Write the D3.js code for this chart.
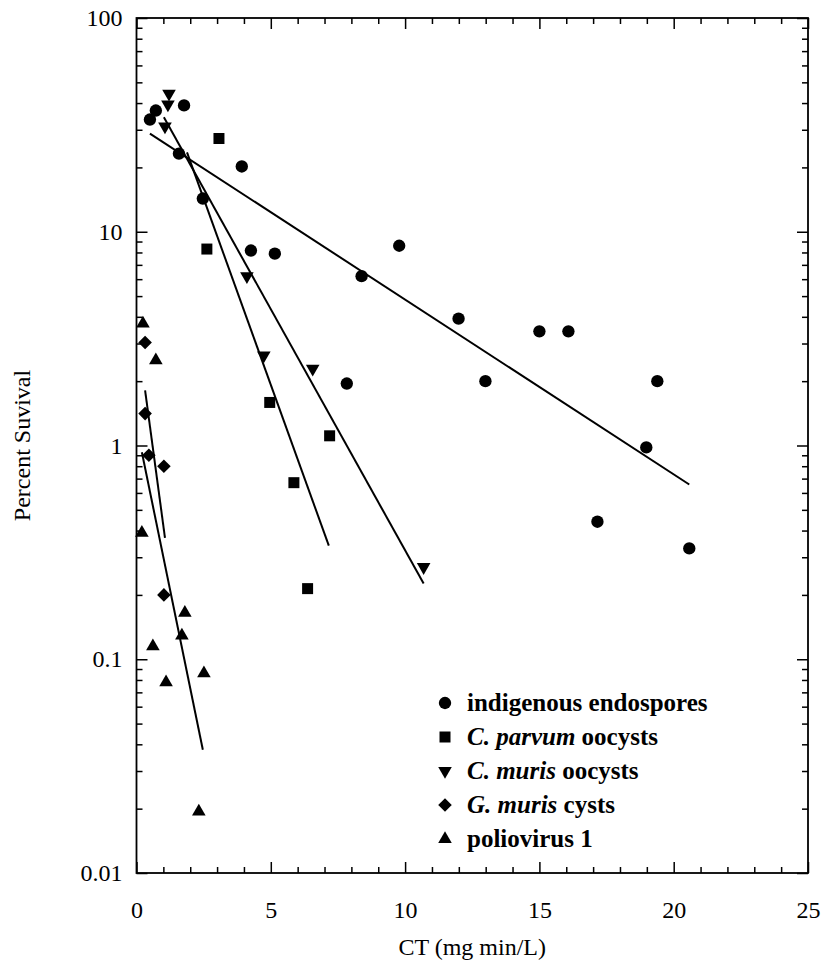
<!DOCTYPE html>
<html>
<head>
<meta charset="utf-8">
<script src="https://cdn.jsdelivr.net/npm/d3@7"></script>
<style>
  body { margin: 0; background: #fff; }
  svg { display: block; }
</style>
</head>
<body>
<svg id="chart"></svg>
<script>
// Data
const endosporesX = [0.50, 0.72, 1.77, 1.58, 2.47, 3.92, 4.26, 5.15, 8.38, 9.78, 11.99, 15.0, 16.08, 12.99, 7.83, 19.39, 18.98, 17.16, 20.58];
const endosporesY = [33.5, 36.9, 39.0, 23.2, 14.3, 20.2, 8.17, 7.9, 6.2, 8.6, 3.92, 3.42, 3.42, 2.0, 1.95, 2.0, 0.98, 0.44, 0.33];

const parvumX = [3.07, 2.62, 4.96, 7.19, 5.86, 6.37];
const parvumY = [27.3, 8.3, 1.59, 1.11, 0.67, 0.214];

const murisX = [1.21, 1.17, 1.06, 4.11, 4.74, 6.56, 10.69];
const murisY = [44.3, 39.4, 31.1, 6.2, 2.64, 2.29, 0.27];

const giardiaX = [0.32, 0.32, 0.46, 1.02, 1.02];
const giardiaY = [3.03, 1.41, 0.90, 0.80, 0.20];

const polioX = [0.24, 0.72, 0.20, 1.80, 1.69, 0.61, 2.51, 1.10, 2.32];
const polioY = [3.72, 2.5, 0.39, 0.165, 0.129, 0.115, 0.086, 0.078, 0.0194];

// regression lines: [x start, x end], [y start, y end]
const endosporesFit = [[0.50, 20.58], [28.8, 0.657]];
const parvumFit = [[1.88, 7.16], [23.5, 0.34]];
const murisFit = [[1.02, 10.69], [34.3, 0.226]];
const giardiaFit = [[0.32, 1.06], [1.81, 0.37]];
const polioFit = [[0.20, 2.47], [0.93, 0.0377]];

const xTicks = [0, 5, 10, 15, 20, 25];
const yTicks = [0.01, 0.1, 1, 10, 100];
const yTickLabels = ["0.01", "0.1", "1", "10", "100"];

const width = 823;
const height = 966;
const margin = { top: 18, right: 15, bottom: 93, left: 136.5 };

const svg = d3.select("#chart")
    .attr("width", width)
    .attr("height", height)
    .style("font-family", "'Liberation Serif', 'Times New Roman', serif");

const x = d3.scaleLinear().domain([0, 25]).range([margin.left, width - margin.right]);
const y = d3.scaleLog().domain([0.01, 100]).range([height - margin.bottom, margin.top]);

const x0 = x.range()[0], x1 = x.range()[1];
const y0 = y.range()[0], y1 = y.range()[1];

// minor ticks
const xMinor = d3.range(0, 26).filter(v => v % 5 !== 0);
const yMinor = [];
for (let e = -2; e < 2; e++) {
    for (let m = 2; m <= 9; m++) yMinor.push(m * Math.pow(10, e));
}

const majorLen = 11, minorLen = 6;

function drawAxis(axis, tr) {
    const g = svg.append("g").attr("transform", tr).call(axis);
    g.select(".domain").remove();
    g.selectAll(".tick line").attr("stroke", "#000").attr("stroke-width", 1.5);
    return g;
}

// bottom
drawAxis(d3.axisBottom(x).tickValues(xMinor).tickSize(-minorLen).tickFormat(""), `translate(0,${y0})`);
drawAxis(d3.axisBottom(x).tickValues(xTicks).tickSize(-majorLen).tickPadding(28).tickFormat(d3.format("d")), `translate(0,${y0})`)
    .selectAll("text").attr("font-size", 24).attr("fill", "#000").attr("font-family", "'Liberation Serif', serif");
// top
drawAxis(d3.axisTop(x).tickValues(xMinor).tickSize(-minorLen).tickFormat(""), `translate(0,${y1})`);
drawAxis(d3.axisTop(x).tickValues(xTicks).tickSize(-majorLen).tickFormat(""), `translate(0,${y1})`);
// left
drawAxis(d3.axisLeft(y).tickValues(yMinor).tickSize(-minorLen).tickFormat(""), `translate(${x0},0)`);
drawAxis(d3.axisLeft(y).tickValues(yTicks).tickSize(-majorLen).tickPadding(14).tickFormat((d, i) => yTickLabels[i]), `translate(${x0},0)`)
    .selectAll("text").attr("font-size", 24).attr("fill", "#000").attr("font-family", "'Liberation Serif', serif");
// right
drawAxis(d3.axisRight(y).tickValues(yMinor).tickSize(-minorLen).tickFormat(""), `translate(${x1},0)`);
drawAxis(d3.axisRight(y).tickValues(yTicks).tickSize(-majorLen).tickFormat(""), `translate(${x1},0)`);

// frame
svg.append("rect")
    .attr("x", x0).attr("y", y1)
    .attr("width", x1 - x0).attr("height", y0 - y1)
    .attr("fill", "none").attr("stroke", "#000").attr("stroke-width", 1.8);

// axis titles
svg.append("text")
    .attr("x", (x0 + x1) / 2).attr("y", 955)
    .attr("text-anchor", "middle").attr("font-size", 24)
    .text("CT (mg min/L)");

svg.append("text")
    .attr("transform", `translate(30,${(y0 + y1) / 2}) rotate(-90)`)
    .attr("text-anchor", "middle").attr("font-size", 24)
    .text("Percent Suvival");

// series
const series = [
    { xs: endosporesX, ys: endosporesY, fit: endosporesFit, type: d3.symbolCircle, size: 120, rot: 0 },
    { xs: parvumX, ys: parvumY, fit: parvumFit, type: d3.symbolSquare, size: 121, rot: 0 },
    { xs: murisX, ys: murisY, fit: murisFit, type: d3.symbolTriangle, size: 80, rot: 180 },
    { xs: giardiaX, ys: giardiaY, fit: giardiaFit, type: d3.symbolSquare, size: 92, rot: 45 },
    { xs: polioX, ys: polioY, fit: polioFit, type: d3.symbolTriangle, size: 80, rot: 0 }
];

const lineGen = d3.line().x(d => x(d[0])).y(d => y(d[1]));

series.forEach(s => {
    const pts = s.fit[0].map((v, i) => [v, s.fit[1][i]]);
    svg.append("path")
        .attr("d", lineGen(pts))
        .attr("fill", "none")
        .attr("stroke", "#000")
        .attr("stroke-width", 2);
});

series.forEach(s => {
    const pts = s.xs.map((v, i) => [v, s.ys[i]]);
    svg.append("g").selectAll("path")
        .data(pts)
        .join("path")
        .attr("d", d3.symbol().type(s.type).size(s.size))
        .attr("transform", d => `translate(${x(d[0])},${y(d[1])}) rotate(${s.rot})`)
        .attr("fill", "#000");
});

// legend
const legendNames = [
    [["indigenous endospores", false]],
    [["C. parvum", true], [" oocysts", false]],
    [["C. muris", true], [" oocysts", false]],
    [["G. muris", true], [" cysts", false]],
    [["poliovirus 1", false]]
];

const legend = svg.append("g").attr("transform", "translate(445,703)");
series.forEach((s, i) => {
    const row = legend.append("g").attr("transform", `translate(0,${i * 34})`);
    row.append("path")
        .attr("d", d3.symbol().type(s.type).size(s.size))
        .attr("transform", `rotate(${s.rot})`)
        .attr("fill", "#000");
    const t = row.append("text")
        .attr("x", 22).attr("y", 8)
        .attr("font-size", 25)
        .attr("font-weight", "bold");
    legendNames[i].forEach(p => {
        t.append("tspan").attr("font-style", p[1] ? "italic" : "normal").text(p[0]);
    });
});
</script>
</body>
</html>
